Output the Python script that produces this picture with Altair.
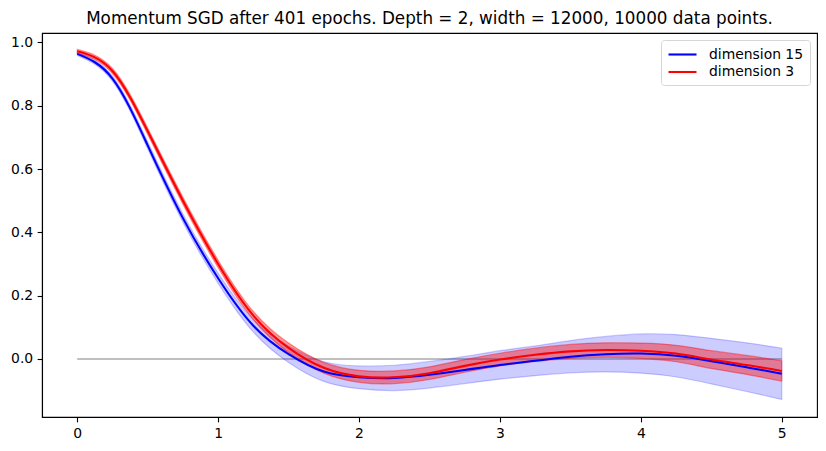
import altair as alt
import pandas as pd

# --- data ---
x_vals = [0.0, 0.25, 0.5, 0.75, 1.0, 1.25, 1.5, 1.75, 2.0, 2.25, 2.5,
          2.75, 3.0, 3.25, 3.5, 3.75, 4.0, 4.25, 4.5, 4.75, 5.0]

dim15_mean = [0.964, 0.886, 0.675, 0.445, 0.255, 0.105, 0.015, -0.04, -0.058, -0.060, -0.050,
              -0.035, -0.019, -0.006, 0.007, 0.015, 0.017, 0.010, -0.007, -0.026, -0.047]
dim15_std = [0.005, 0.008, 0.011, 0.013, 0.016, 0.020, 0.026, 0.031, 0.036, 0.040, 0.042,
             0.043, 0.045, 0.047, 0.051, 0.056, 0.062, 0.067, 0.072, 0.077, 0.081]

dim3_mean = [0.972, 0.91, 0.72, 0.50, 0.30, 0.137, 0.035, -0.028, -0.055, -0.058, -0.045,
             -0.022, -0.002, 0.013, 0.024, 0.028, 0.026, 0.017, -0.002, -0.019, -0.038]
dim3_std = [0.006, 0.008, 0.010, 0.011, 0.012, 0.013, 0.015, 0.017, 0.019, 0.020, 0.020,
            0.020, 0.020, 0.021, 0.022, 0.023, 0.024, 0.026, 0.028, 0.030, 0.032]

series_names = ["dimension 15", "dimension 3"]
series_colors = ["#0000ff", "#ff0000"]
x_ticks = [0, 1, 2, 3, 4, 5]
y_ticks = [0.0, 0.2, 0.4, 0.6, 0.8, 1.0]
zero_line_x = [0.0, 5.0]

title_text = "Momentum SGD after 401 epochs. Depth = 2, width = 12000, 10000 data points."

rows = []
for name, mean, std in [(series_names[0], dim15_mean, dim15_std),
                        (series_names[1], dim3_mean, dim3_std)]:
    for xv, m, s in zip(x_vals, mean, std):
        rows.append({"x": xv, "y": m, "lo": m - s, "hi": m + s, "series": name})
df = pd.DataFrame(rows)
zero_df = pd.DataFrame({"x": zero_line_x, "y": [0.0, 0.0]})

FONT = "DejaVu Sans"
INTERP = "natural"
xscale = alt.Scale(domain=[-0.25, 5.25], nice=False, zero=False)
yscale = alt.Scale(domain=[-0.1835, 1.03], nice=False, zero=False)

xaxis = alt.Axis(values=x_ticks, format="d", title=None, grid=False,
                 labelFontSize=13.9, labelFont=FONT, labelColor="black",
                 tickSize=4.86, tickWidth=1.1, tickColor="black",
                 domainColor="black", domainWidth=1.1, labelPadding=4.5)
yaxis = alt.Axis(values=y_ticks, format=".1f", title=None, grid=False,
                 labelFontSize=13.9, labelFont=FONT, labelColor="black",
                 tickSize=4.86, tickWidth=1.1, tickColor="black",
                 domainColor="black", domainWidth=1.1, labelPadding=4.5)

base = alt.Chart(df)

zero = alt.Chart(zero_df).mark_line(color="black", opacity=0.25, strokeWidth=2).encode(
    x=alt.X("x:Q", scale=xscale, axis=xaxis),
    y=alt.Y("y:Q", scale=yscale, axis=yaxis),
)

band15 = base.transform_filter(alt.datum.series == series_names[0]).mark_area(
    color=series_colors[0], fillOpacity=0.2, stroke=series_colors[0],
    strokeOpacity=0.2, strokeWidth=1.2, interpolate=INTERP
).encode(x=alt.X("x:Q", scale=xscale), y=alt.Y("lo:Q", scale=yscale), y2="hi:Q")

band3 = base.transform_filter(alt.datum.series == series_names[1]).mark_area(
    color=series_colors[1], fillOpacity=0.4, stroke=series_colors[1],
    strokeOpacity=0.4, strokeWidth=1.2, interpolate=INTERP
).encode(x=alt.X("x:Q", scale=xscale), y=alt.Y("lo:Q", scale=yscale), y2="hi:Q")

lines = base.mark_line(strokeWidth=2.1, interpolate=INTERP).encode(
    x=alt.X("x:Q", scale=xscale),
    y=alt.Y("y:Q", scale=yscale),
    color=alt.Color("series:N",
                    scale=alt.Scale(domain=series_names, range=series_colors),
                    sort=series_names,
                    legend=alt.Legend(title=None, orient="top-right", offset=7,
                                      symbolType="M-2,0H2", symbolSize=196,
                                      symbolStrokeWidth=2.1, symbolOffset=7,
                                      labelFontSize=13.9, labelFont=FONT,
                                      labelColor="black", labelOffset=18,
                                      rowPadding=1.5, padding=6,
                                      strokeColor="#d6d6d6", fillColor="white",
                                      cornerRadius=3)),
    detail="series:N",
)

chart = alt.layer(zero, band15, band3, lines).properties(
    width=775, height=384,
    title=alt.TitleParams(title_text, fontSize=16.8, font=FONT,
                          fontWeight="normal", offset=5, anchor="middle",
                          color="black"),
    padding={"left": 34, "top": 25, "right": 1, "bottom": 26},
    autosize=alt.AutoSizeParams(type="none"),
).configure_view(stroke="black", strokeWidth=1.1)

chart.save("out.html", embed_options={"renderer": "svg", "actions": False})
